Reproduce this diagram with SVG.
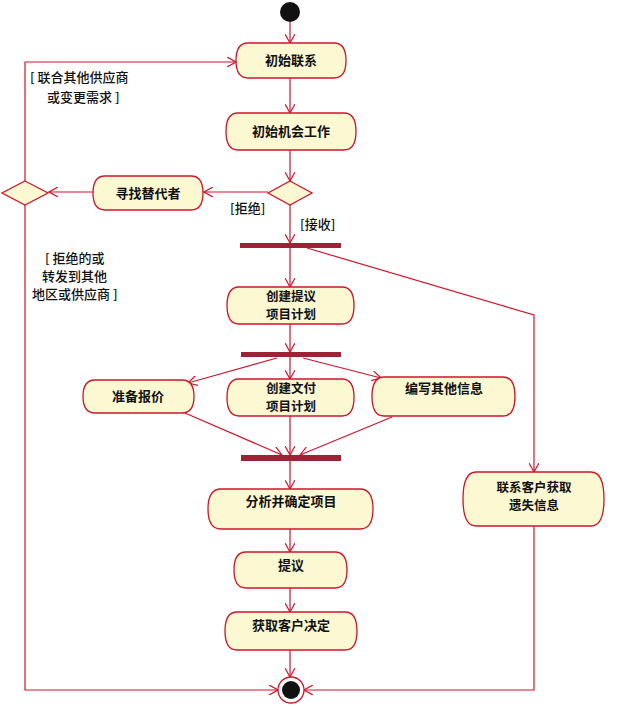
<svg xmlns="http://www.w3.org/2000/svg" width="644" height="707" viewBox="0 0 644 707">
<style>
.n{fill:#fcf8d2;stroke:#d0142a;stroke-width:1.3}
.t{font-family:"Noto Sans CJK SC","Noto Sans",sans-serif;font-size:13px;font-weight:600;fill:#111;text-anchor:middle}
.t2{font-size:12.5px}
.g{font-family:"Noto Sans CJK SC","Noto Sans",sans-serif;font-size:13px;font-weight:500;fill:#111}
.e{fill:none;stroke:#d0142a;stroke-width:1.2}
.bar{fill:#9b2335}
</style>
<defs>
<marker id="a" markerWidth="10" markerHeight="10" refX="9" refY="5" orient="auto" markerUnits="userSpaceOnUse">
<path d="M0,0 L9,5 L0,10" fill="none" stroke="#d0142a" stroke-width="1.2"/>
</marker>
</defs>
<rect width="644" height="707" fill="#fff"/>
<g id="edges">
<path class="e" d="M290,22 V43" marker-end="url(#a)"/>
<path class="e" d="M290,78 V113" marker-end="url(#a)"/>
<path class="e" d="M290,150 V181" marker-end="url(#a)"/>
<path class="e" d="M268,192 H204" marker-end="url(#a)"/>
<path class="e" d="M93,192 H49" marker-end="url(#a)"/>
<path class="e" d="M25,181 V62 H236" marker-end="url(#a)"/>
<path class="e" d="M25,205 V690 H278" marker-end="url(#a)"/>
<path class="e" d="M290,205 V243" marker-end="url(#a)"/>
<path class="e" d="M290,248 V287" marker-end="url(#a)"/>
<path class="e" d="M307,248 L534,315 V472" marker-end="url(#a)"/>
<path class="e" d="M290,324 V352" marker-end="url(#a)"/>
<path class="e" d="M290,357 V379" marker-end="url(#a)"/>
<path class="e" d="M277,358 L188,383" marker-end="url(#a)"/>
<path class="e" d="M303,358 L381,378" marker-end="url(#a)"/>
<path class="e" d="M185,413 L282,455" marker-end="url(#a)"/>
<path class="e" d="M290,416 V455" marker-end="url(#a)"/>
<path class="e" d="M392,417 L300,455" marker-end="url(#a)"/>
<path class="e" d="M290,461 V489" marker-end="url(#a)"/>
<path class="e" d="M290,529 V552" marker-end="url(#a)"/>
<path class="e" d="M290,588 V612" marker-end="url(#a)"/>
<path class="e" d="M290,650 V677" marker-end="url(#a)"/>
<path class="e" d="M534,526 V690 H304" marker-end="url(#a)"/>
</g>
<g id="start"><circle cx="290" cy="12" r="10" fill="#111"/></g>
<g id="n1"><path class="n" d="M248,43 H334 Q346,43 346,60.5 Q346,78 334,78 H248 Q236,78 236,60.5 Q236,43 248,43 Z"/><text class="t" x="291" y="65">初始联系</text></g>
<g id="n2"><path class="n" d="M238,113 H344 Q356,113 356,131.5 Q356,150 344,150 H238 Q226,150 226,131.5 Q226,113 238,113 Z"/><text class="t" x="291" y="136">初始机会工作</text></g>
<g id="d1"><path class="n" d="M290,181 L312,193 L290,205 L268,193 Z"/></g>
<g id="n3"><path class="n" d="M105,176 H191 Q203,176 203,193 Q203,210 191,210 H105 Q93,210 93,193 Q93,176 105,176 Z"/><text class="t" x="148" y="198">寻找替代者</text></g>
<g id="d2"><path class="n" d="M25,181 L48,193 L25,205 L2,193 Z"/></g>
<g id="labels">
<text class="g" x="30" y="82">[ 联合其他供应商</text>
<text class="g" x="47" y="102">或变更需求 ]</text>
<text class="g" x="230" y="213">[拒绝]</text>
<text class="g" x="300" y="229">[接收]</text>
<text class="g" x="45" y="263">[ 拒绝的或</text>
<text class="g" x="42" y="281">转发到其他</text>
<text class="g" x="32" y="299">地区或供应商 ]</text>
</g>
<g id="bar1"><rect class="bar" x="240" y="243" width="101" height="5"/></g>
<g id="n4"><path class="n" d="M239,287 H342 Q354,287 354,305.5 Q354,324 342,324 H239 Q227,324 227,305.5 Q227,287 239,287 Z"/><text class="t t2" x="291" y="301">创建提议</text><text class="t t2" x="291" y="319">项目计划</text></g>
<g id="bar2"><rect class="bar" x="241" y="352" width="100" height="5"/></g>
<g id="n5"><path class="n" d="M95,380 H182 Q194,380 194,396.5 Q194,413 182,413 H95 Q83,413 83,396.5 Q83,380 95,380 Z"/><text class="t" x="138" y="401">准备报价</text></g>
<g id="n6"><path class="n" d="M239,379 H342 Q354,379 354,397.5 Q354,416 342,416 H239 Q227,416 227,397.5 Q227,379 239,379 Z"/><text class="t t2" x="291" y="393">创建文付</text><text class="t t2" x="291" y="411">项目计划</text></g>
<g id="n7"><path class="n" d="M384,377 H503 Q515,377 515,396.5 Q515,416 503,416 H384 Q372,416 372,396.5 Q372,377 384,377 Z"/><text class="t" x="444" y="393">编写其他信息</text></g>
<g id="bar3"><rect class="bar" x="241" y="455" width="100" height="6"/></g>
<g id="n8"><path class="n" d="M221,489 H360 Q373,489 373,509 Q373,529 360,529 H221 Q208,529 208,509 Q208,489 221,489 Z"/><text class="t" x="291" y="506">分析并确定项目</text></g>
<g id="n9"><path class="n" d="M246,552 H335 Q347,552 347,570 Q347,588 335,588 H246 Q234,588 234,570 Q234,552 246,552 Z"/><text class="t" x="291" y="570">提议</text></g>
<g id="n10"><path class="n" d="M237,612 H345 Q357,612 357,631 Q357,650 345,650 H237 Q225,650 225,631 Q225,612 237,612 Z"/><text class="t" x="291" y="630">获取客户决定</text></g>
<g id="n11"><path class="n" d="M476,472 H591 Q604,472 604,499 Q604,526 591,526 H476 Q463,526 463,499 Q463,472 476,472 Z"/><text class="t t2" x="534" y="492">联系客户获取</text><text class="t t2" x="534" y="510">遗失信息</text></g>
<g id="end"><circle cx="291" cy="690" r="13" fill="#fff" stroke="#d0142a" stroke-width="1.3"/><circle cx="291" cy="690" r="9" fill="#111"/></g>
</svg>
